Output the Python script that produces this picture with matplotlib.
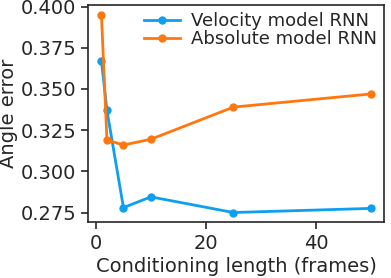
import matplotlib
matplotlib.use("Agg")
import matplotlib.pyplot as plt

frames = [1, 2, 5, 10, 25, 50]
velocity_err = [0.367, 0.337, 0.278, 0.2845, 0.275, 0.2775]
absolute_err = [0.395, 0.319, 0.316, 0.3195, 0.339, 0.347]
labels = ["Velocity model RNN", "Absolute model RNN"]

plt.rcParams['font.family'] = ['DejaVu Sans']
plt.rcParams['text.color'] = '#262626'
plt.rcParams['axes.labelcolor'] = '#262626'
plt.rcParams['xtick.color'] = '#262626'
plt.rcParams['ytick.color'] = '#262626'

fig, ax = plt.subplots(figsize=(3.91, 2.78), dpi=100)
ax.plot(frames, velocity_err, marker='o', color='#0d9ff0', lw=2, ms=5, label=labels[0])
ax.plot(frames, absolute_err, marker='o', color='#ff770e', lw=2, ms=5, label=labels[1])
ax.set_xlabel("Conditioning length (frames)", fontsize=14, labelpad=3)
ax.set_ylabel("Angle error", fontsize=14, labelpad=2)
ax.set_xticks([0, 20, 40])
ax.set_yticks([0.275, 0.300, 0.325, 0.350, 0.375, 0.400])
ax.tick_params(labelsize=14, width=1.2, length=5, colors='#262626')
for s in ax.spines.values():
    s.set_color('#262626')
    s.set_linewidth(1.2)
ax.legend(frameon=False, fontsize=13, loc='upper right', handlelength=2,
          borderaxespad=0.2, labelspacing=0.0, borderpad=0.2, handletextpad=0.6)
fig.subplots_adjust(left=0.225, right=0.983, top=0.982, bottom=0.2)
fig.savefig("out.png", dpi=100)
